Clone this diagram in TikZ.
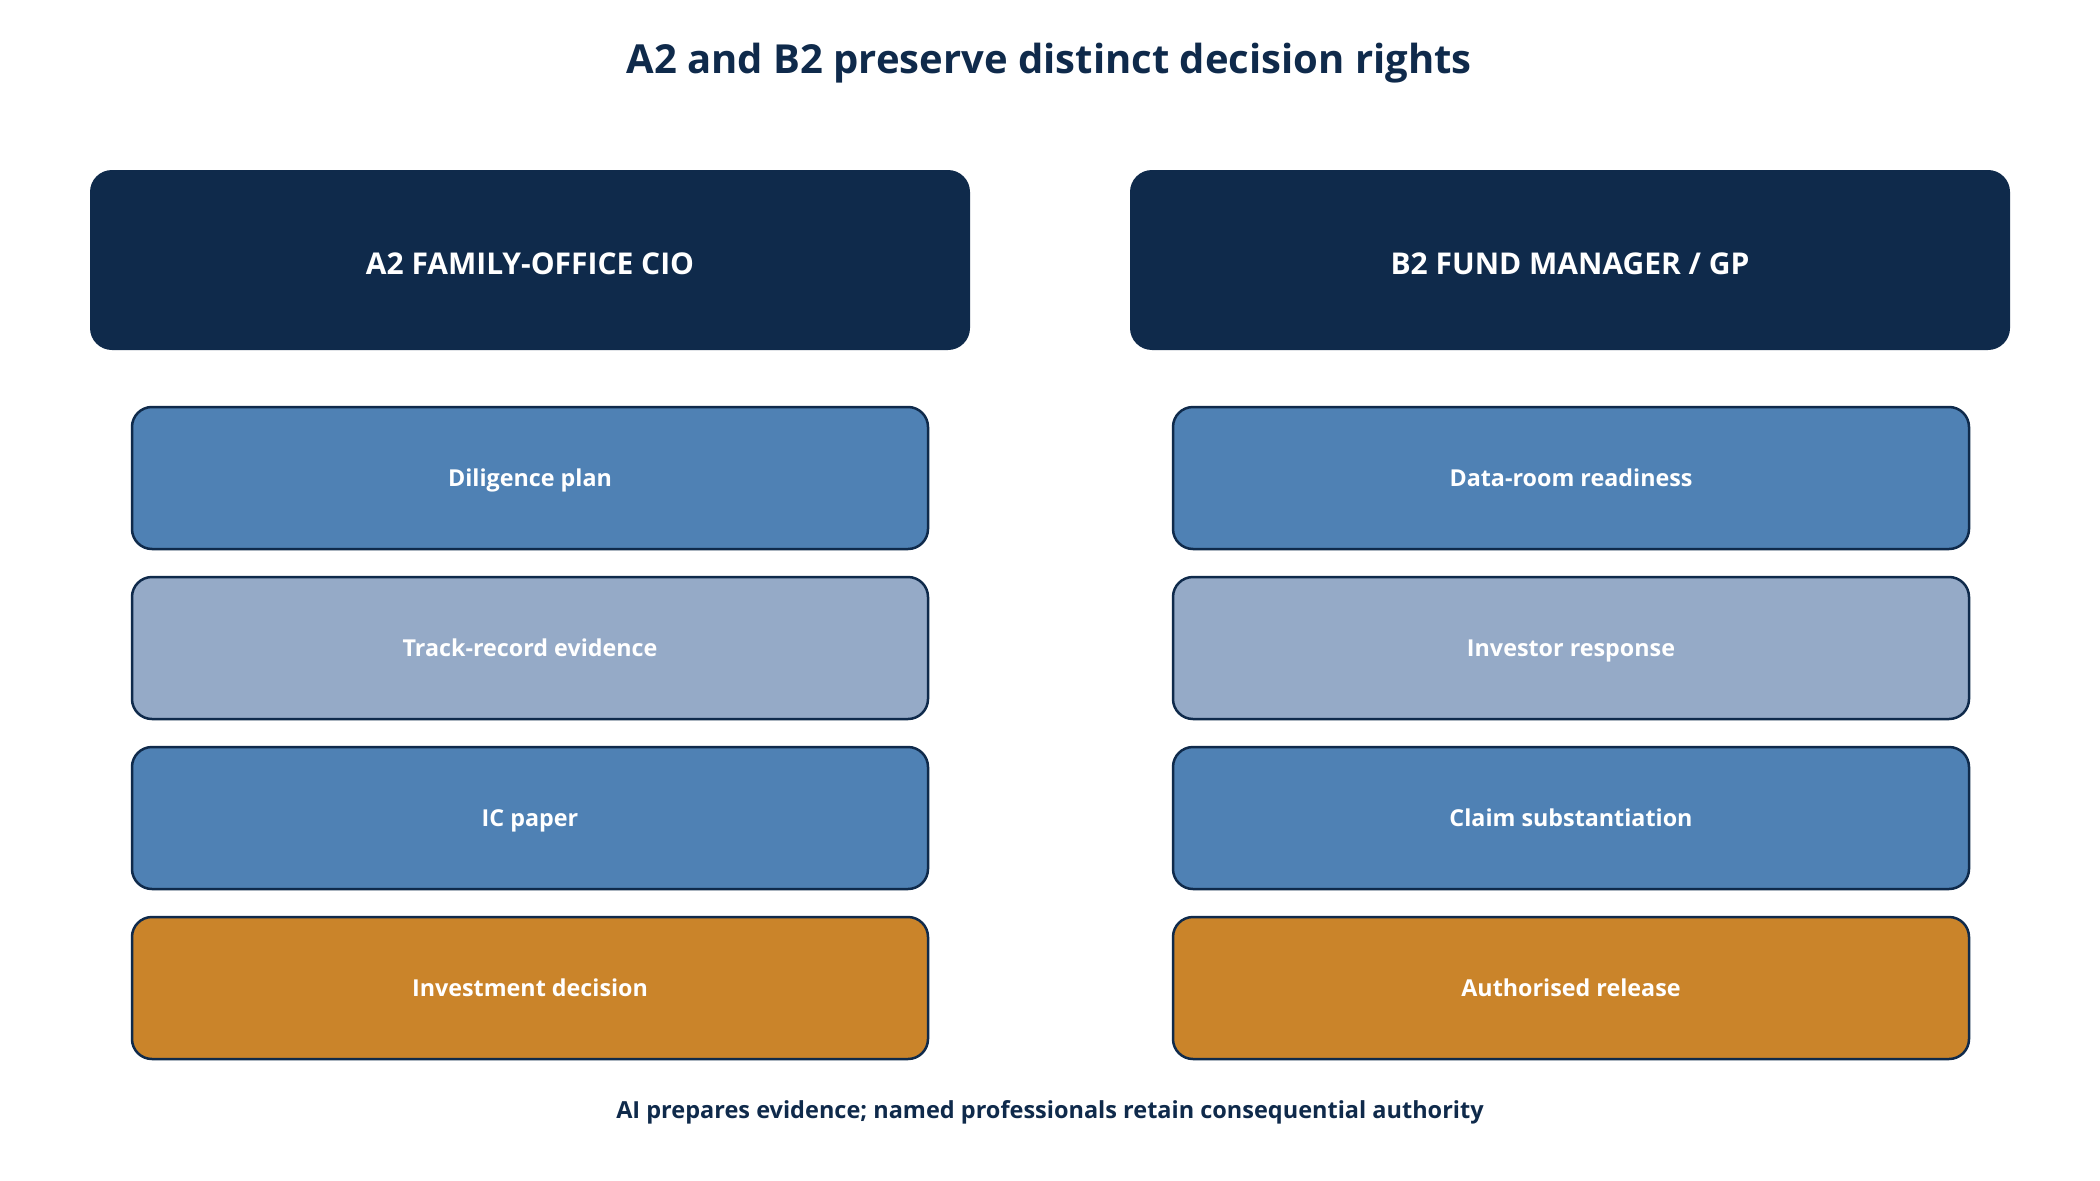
\documentclass[tikz,border=0pt]{standalone}
\usepackage{fontspec}
\setmainfont{Open Sans}
\definecolor{navy}{HTML}{0F2A4B}
\definecolor{midblue}{HTML}{4F81B4}
\definecolor{paleblue}{HTML}{95AAC7}
\definecolor{ochre}{HTML}{CA842A}

\begin{document}
\begin{tikzpicture}[x=1pt,y=-1pt,
		head/.style={fill=navy,rounded corners=22pt,minimum width=880pt,minimum height=180pt,
			text=white,text height=32pt,text depth=2.6pt,font=\fontsize{30}{36}\selectfont\bfseries},
		item/.style={draw=navy,line width=2.5pt,rounded corners=20pt,minimum width=796pt,
			minimum height=142pt,text=white,text height=22pt,text depth=5.4pt,font=\fontsize{23.3}{28}\selectfont\bfseries}]
		\useasboundingbox (0,0) rectangle (2100,1180);
		\node[text=navy,font=\fontsize{40}{48}\selectfont\bfseries] (title) at (1049,63) {A2 and B2 preserve distinct decision rights};
		\node[head] (cio) at (530,260) {A2 FAMILY-OFFICE CIO};
		\node[head] (gp) at (1570,260) {B2 FUND MANAGER / GP};
		\foreach \n/\y/\c/\t in {1/478/midblue/Diligence plan,2/648/paleblue/Track-record evidence,3/818/midblue/IC paper,4/988/ochre/Investment decision} {
			\node[item,fill=\c] (a\n) at (530,\y) {\t};
		}
		\foreach \n/\y/\c/\t in {1/478/midblue/Data-room readiness,2/648/paleblue/Investor response,3/818/midblue/Claim substantiation,4/988/ochre/Authorised release} {
			\node[item,fill=\c] (b\n) at (1571,\y) {\t};
		}
		\node[text=navy,font=\fontsize{23.5}{28}\selectfont\bfseries] (note) at (1050,1112) {AI prepares evidence; named professionals retain consequential authority};
		\end{tikzpicture}
\end{document}
